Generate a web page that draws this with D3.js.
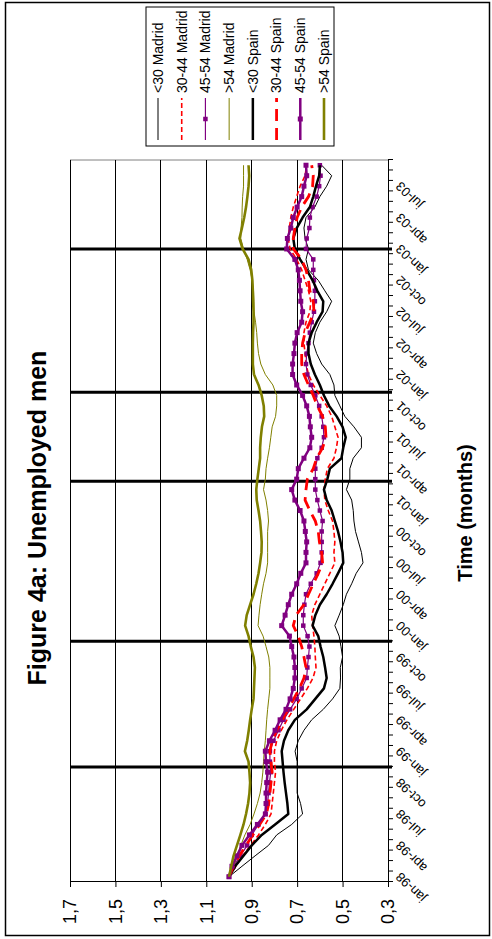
<!DOCTYPE html>
<html>
<head>
<meta charset="UTF-8">
<title>Figure 4a: Unemployed men</title>
<script src="https://d3js.org/d3.v7.min.js"></script>
<style>
  body { margin: 0; background: #fff; }
  svg { display: block; font-family: "Liberation Sans", Arial, sans-serif; }
</style>
</head>
<body>
<svg width="492" height="939"></svg>
<script>
// months jan-98 .. sep-03
const months = [
  "jan-98","feb-98","mar-98","apr-98","may-98","jun-98","jul-98","aug-98","sep-98","oct-98","nov-98","dec-98",
  "jan-99","feb-99","mar-99","apr-99","may-99","jun-99","jul-99","aug-99","sep-99","oct-99","nov-99","dec-99",
  "jan-00","feb-00","mar-00","apr-00","may-00","jun-00","jul-00","aug-00","sep-00","oct-00","nov-00","dec-00",
  "jan-01","feb-01","mar-01","apr-01","may-01","jun-01","jul-01","aug-01","sep-01","oct-01","nov-01","dec-01",
  "jan-02","feb-02","mar-02","apr-02","may-02","jun-02","jul-02","aug-02","sep-02","oct-02","nov-02","dec-02",
  "jan-03","feb-03","mar-03","apr-03","may-03","jun-03","jul-03","aug-03","sep-03"
];
const shownLabels = months.filter(m => /^(jan|apr|jul|oct)/.test(m));
const valueTicks = [0.3, 0.5, 0.7, 0.9, 1.1, 1.3, 1.5, 1.7];
// heavy vertical markers, in months from start of jan-98
const breakPositions = [11, 23, 38.3, 46.8, 60.5];

const under30Madrid = [1.0,0.943,0.885,0.826,0.79,0.724,0.676,0.685,0.70,0.70,0.70,0.70,
  0.709,0.695,0.67,0.636,0.585,0.544,0.512,0.509,0.51,0.50,0.507,0.515,
  0.534,0.515,0.497,0.483,0.46,0.44,0.41,0.417,0.43,0.443,0.45,0.453,
  0.46,0.483,0.468,0.468,0.453,0.417,0.417,0.45,0.49,0.512,0.534,0.538,
  0.556,0.592,0.614,0.629,0.62,0.60,0.57,0.548,0.578,0.607,0.65,0.661,
  0.65,0.665,0.67,0.661,0.622,0.60,0.57,0.548,0.592];
const m30to44Madrid = [1.0,0.97,0.94,0.905,0.87,0.84,0.815,0.81,0.805,0.80,0.795,0.80,
  0.80,0.79,0.77,0.745,0.715,0.685,0.655,0.63,0.617,0.62,0.622,0.626,
  0.632,0.636,0.622,0.60,0.578,0.556,0.534,0.538,0.534,0.538,0.544,0.563,
  0.578,0.582,0.576,0.567,0.538,0.527,0.52,0.534,0.548,0.57,0.60,0.629,
  0.65,0.661,0.665,0.67,0.67,0.661,0.644,0.64,0.65,0.665,0.68,0.702,
  0.731,0.739,0.734,0.728,0.717,0.702,0.687,0.665,0.658];
const m45to54Madrid = [1.0,0.98,0.95,0.92,0.90,0.87,0.84,0.83,0.826,0.822,0.816,0.82,
  0.82,0.804,0.782,0.76,0.731,0.702,0.68,0.658,0.655,0.65,0.646,0.654,
  0.673,0.673,0.668,0.661,0.64,0.614,0.597,0.592,0.592,0.592,0.588,0.60,
  0.611,0.62,0.62,0.62,0.611,0.592,0.582,0.585,0.592,0.603,0.62,0.64,
  0.655,0.661,0.658,0.65,0.644,0.636,0.626,0.622,0.622,0.626,0.629,0.629,
  0.661,0.658,0.646,0.644,0.632,0.614,0.603,0.597,0.60];
const over54Madrid = [1.0,0.98,0.962,0.948,0.93,0.907,0.89,0.875,0.863,0.856,0.851,0.848,
  0.845,0.84,0.837,0.834,0.83,0.825,0.82,0.82,0.82,0.825,0.837,0.85,
  0.872,0.868,0.863,0.856,0.848,0.837,0.83,0.83,0.83,0.83,0.826,0.83,
  0.837,0.848,0.84,0.837,0.83,0.822,0.816,0.81,0.795,0.79,0.79,0.807,
  0.84,0.86,0.87,0.875,0.878,0.883,0.89,0.89,0.892,0.898,0.907,0.92,
  0.936,0.948,0.947,0.943,0.942,0.94,0.936,0.936,0.936];
const under30Spain = [1.0,0.973,0.936,0.90,0.856,0.797,0.739,0.743,0.749,0.755,0.76,0.764,
  0.768,0.758,0.739,0.71,0.658,0.62,0.582,0.57,0.577,0.585,0.597,0.607,
  0.632,0.62,0.60,0.57,0.544,0.52,0.497,0.50,0.509,0.52,0.534,0.548,
  0.57,0.582,0.567,0.556,0.505,0.497,0.486,0.50,0.526,0.559,0.582,0.60,
  0.622,0.64,0.65,0.65,0.636,0.614,0.588,0.585,0.611,0.632,0.658,0.687,
  0.71,0.717,0.702,0.676,0.644,0.629,0.617,0.603,0.60];
const s30to44Spain = [1.0,0.98,0.955,0.925,0.895,0.865,0.835,0.825,0.82,0.815,0.81,0.815,
  0.82,0.81,0.79,0.765,0.74,0.715,0.69,0.67,0.661,0.67,0.68,0.695,
  0.717,0.705,0.67,0.65,0.629,0.607,0.588,0.592,0.602,0.607,0.62,0.644,
  0.665,0.661,0.655,0.629,0.614,0.588,0.573,0.576,0.588,0.611,0.629,0.65,
  0.67,0.68,0.68,0.676,0.665,0.644,0.626,0.629,0.644,0.65,0.661,0.68,
  0.717,0.717,0.71,0.70,0.68,0.65,0.632,0.629,0.636];
const s45to54Spain = [1.0,0.987,0.965,0.943,0.91,0.875,0.84,0.837,0.837,0.834,0.83,0.837,
  0.84,0.822,0.797,0.775,0.749,0.731,0.717,0.71,0.71,0.714,0.724,0.734,
  0.768,0.753,0.739,0.724,0.702,0.684,0.661,0.661,0.658,0.664,0.67,0.687,
  0.71,0.724,0.702,0.695,0.67,0.644,0.636,0.642,0.646,0.658,0.676,0.702,
  0.72,0.72,0.714,0.71,0.70,0.68,0.676,0.684,0.687,0.69,0.695,0.71,
  0.746,0.743,0.728,0.717,0.70,0.68,0.67,0.658,0.661];
const over54Spain = [1.0,0.99,0.98,0.965,0.95,0.936,0.925,0.916,0.91,0.907,0.91,0.914,
  0.93,0.92,0.913,0.907,0.90,0.892,0.89,0.888,0.886,0.892,0.904,0.914,
  0.929,0.922,0.907,0.892,0.88,0.87,0.863,0.857,0.856,0.859,0.863,0.87,
  0.878,0.88,0.875,0.869,0.863,0.863,0.86,0.855,0.845,0.847,0.856,0.87,
  0.89,0.895,0.895,0.895,0.894,0.892,0.892,0.894,0.895,0.897,0.902,0.914,
  0.94,0.954,0.943,0.933,0.925,0.919,0.914,0.911,0.914];

const series = [
  { name: "<30 Madrid",   values: under30Madrid, color: "#000",    width: 1 },
  { name: "30-44 Madrid", values: m30to44Madrid, color: "#ff0000", width: 1.6, dash: "5,3" },
  { name: "45-54 Madrid", values: m45to54Madrid, color: "#800080", width: 1.2, marker: 4.5 },
  { name: ">54 Madrid",   values: over54Madrid,  color: "#808000", width: 1 },
  { name: "<30 Spain",    values: under30Spain,  color: "#000",    width: 2.5 },
  { name: "30-44 Spain",  values: s30to44Spain,  color: "#ff0000", width: 2.8, dash: "12,7" },
  { name: "45-54 Spain",  values: s45to54Spain,  color: "#800080", width: 2.5, marker: 5 },
  { name: ">54 Spain",    values: over54Spain,   color: "#808000", width: 2.6 }
];

// the chart is laid out unrotated (939 wide, 492 tall) and turned a quarter turn
const W = 939;
const svg = d3.select("svg");
svg.append("rect")
  .attr("x", 5.5).attr("y", 2.5).attr("width", 484).attr("height", 933)
  .attr("fill", "none").attr("stroke", "#000").attr("stroke-width", 1.5);

const g = svg.append("g").attr("transform", `translate(0,${W}) rotate(-90)`);

const plot = { left: 57, right: 779, top: 70, bottom: 388 };
const x = d3.scaleBand().domain(months).range([plot.left, plot.right]);
const xi = d3.scaleLinear().domain([0, months.length]).range([plot.left, plot.right]);
const y = d3.scaleLinear().domain([0.3, 1.7]).range([plot.bottom, plot.top]);
const cx = m => x(m) + x.bandwidth() / 2;

// plot border (right side) + gridlines
g.append("line")
  .attr("x1", plot.right).attr("x2", plot.right)
  .attr("y1", plot.top).attr("y2", plot.bottom)
  .attr("stroke", "#808080");
g.append("g").selectAll("line").data(valueTicks).join("line")
  .attr("x1", plot.left).attr("x2", plot.right)
  .attr("y1", d => y(d)).attr("y2", d => y(d))
  .attr("stroke", "#000").attr("shape-rendering", "crispEdges");

// value axis
const yAxis = g.append("g")
  .attr("transform", `translate(${plot.left},0)`)
  .call(d3.axisLeft(y).tickValues(valueTicks)
    .tickFormat(d => d3.format(".1f")(d).replace(".", ","))
    .tickSize(5).tickSizeOuter(0).tickPadding(12));
yAxis.attr("font-family", null).attr("font-size", 18);
yAxis.selectAll("line, path").attr("stroke", "#000");

// category axis: a tick per month, a label every quarter
const xAxis = g.append("g")
  .attr("transform", `translate(0,${plot.bottom})`)
  .call(d3.axisBottom(xi).tickValues(d3.range(0, months.length + 1))
    .tickFormat("").tickSize(5).tickSizeOuter(0));
xAxis.selectAll("line, path").attr("stroke", "#000");

g.append("g").selectAll("text").data(shownLabels).join("text")
  .attr("transform", m => `translate(${cx(m) + 2},${plot.bottom + 10}) rotate(-45)`)
  .attr("text-anchor", "end")
  .attr("dy", "0.35em")
  .attr("font-size", 13)
  .text(m => m);

// heavy vertical markers
g.append("g").selectAll("line").data(breakPositions).join("line")
  .attr("x1", d => xi(d)).attr("x2", d => xi(d))
  .attr("y1", plot.top).attr("y2", plot.bottom + 4)
  .attr("stroke", "#000").attr("stroke-width", 3);

// series
const line = d3.line()
  .x((d, i) => cx(months[i]))
  .y(d => y(d));

series.forEach(s => {
  g.append("path")
    .datum(s.values)
    .attr("d", line)
    .attr("fill", "none")
    .attr("stroke", s.color)
    .attr("stroke-width", s.width)
    .attr("stroke-dasharray", s.dash || null)
    .attr("stroke-linejoin", "round");
  if (s.marker) {
    g.append("g").selectAll("rect").data(s.values).join("rect")
      .attr("x", (d, i) => cx(months[i]) - s.marker / 2)
      .attr("y", d => y(d) - s.marker / 2)
      .attr("width", s.marker).attr("height", s.marker)
      .attr("fill", s.color);
  }
});

// legend
const legend = g.append("g");
legend.append("rect")
  .attr("x", 793).attr("y", 146).attr("width", 139).attr("height", 188)
  .attr("fill", "#fff").attr("stroke", "#000");
const ly = d3.scalePoint().domain(series.map(s => s.name)).range([158, 324]);
series.forEach(s => {
  const yy = ly(s.name);
  legend.append("line")
    .attr("x1", 799).attr("x2", 841).attr("y1", yy).attr("y2", yy)
    .attr("stroke", s.color).attr("stroke-width", s.width)
    .attr("stroke-dasharray", s.dash || null);
  if (s.marker) {
    legend.append("rect")
      .attr("x", 820 - s.marker / 2).attr("y", yy - s.marker / 2)
      .attr("width", s.marker).attr("height", s.marker)
      .attr("fill", s.color);
  }
  legend.append("text")
    .attr("x", 846).attr("y", yy).attr("dy", "0.35em")
    .attr("font-size", 14)
    .text(s.name);
});

// titles
g.append("text")
  .attr("x", 421).attr("y", 46)
  .attr("text-anchor", "middle")
  .attr("font-size", 25).attr("font-weight", "bold")
  .text("Figure 4a: Unemployed men");
g.append("text")
  .attr("x", 426).attr("y", 472)
  .attr("text-anchor", "middle")
  .attr("font-size", 20).attr("font-weight", "bold")
  .text("Time (months)");
</script>
</body>
</html>
